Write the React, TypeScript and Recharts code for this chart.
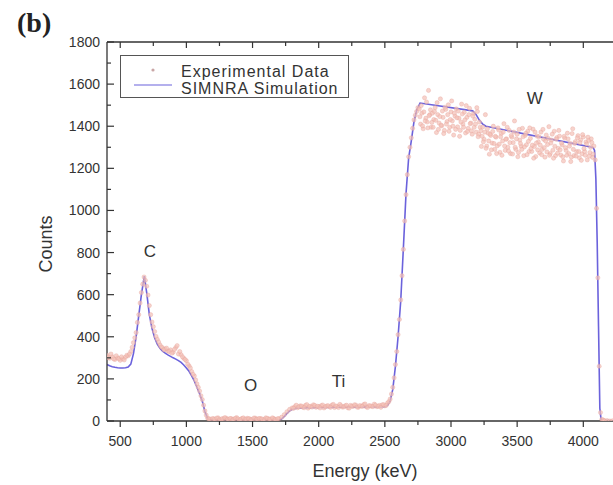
import { ComposedChart, Line, Scatter, XAxis, YAxis, Legend, ReferenceDot } from "recharts";

// ---- axis ticks ----
const xTicks = [500, 750, 1000, 1250, 1500, 1750, 2000, 2250, 2500, 2750, 3000, 3250, 3500, 3750, 4000, 4250];
const yTicks = [0, 100, 200, 300, 400, 500, 600, 700, 800, 900, 1000, 1100, 1200, 1300, 1400, 1500, 1600, 1700, 1800];

// C region
const expE1 = [400, 420, 440, 460, 480, 500, 520, 540, 560, 580, 600, 620, 640, 660, 680, 700, 720, 740, 760, 780,
  800, 820, 840, 860, 880, 900, 920, 940, 960, 980, 1000, 1020, 1040, 1060, 1080, 1100, 1120, 1140, 1160, 1180];
const expC1 = [312, 298, 305, 292, 300, 288, 296, 303, 310, 330, 372, 420, 505, 610, 684, 640, 548, 470, 425, 388,
  362, 348, 341, 332, 338, 326, 349, 318, 315, 298, 286, 262, 235, 214, 176, 142, 102, 48, 14, 9];
const expE1b = [410, 430, 450, 470, 490, 510, 530, 550, 570, 590, 610, 630, 650, 670, 690, 710, 730, 750, 770, 790,
  810, 830, 850, 870, 890, 910, 930, 950, 970, 990, 1010, 1030, 1050, 1070, 1090, 1110, 1130, 1150, 1170];
const expC1b = [302, 318, 295, 310, 296, 305, 290, 312, 318, 350, 395, 468, 560, 650, 668, 598, 505, 448, 402, 375,
  352, 338, 346, 330, 322, 340, 358, 330, 305, 292, 270, 252, 222, 195, 160, 120, 75, 28, 10];
// O region
const expE2 = [1200, 1220, 1240, 1260, 1280, 1300, 1320, 1340, 1360, 1380, 1400, 1420, 1440, 1460, 1480, 1500, 1520,
  1540, 1560, 1580, 1600, 1620, 1640, 1660, 1680, 1700];
const expC2 = [12, 8, 15, 6, 10, 14, 7, 11, 9, 16, 5, 12, 8, 13, 10, 6, 14, 9, 11, 7, 15, 10, 8, 12, 6, 11];
const expE2b = [1210, 1230, 1250, 1270, 1290, 1310, 1330, 1350, 1370, 1390, 1410, 1430, 1450, 1470, 1490, 1510, 1530,
  1550, 1570, 1590, 1610, 1630, 1650, 1670, 1690];
const expC2b = [9, 14, 6, 11, 16, 8, 12, 5, 13, 10, 7, 15, 9, 11, 6, 14, 8, 12, 10, 5, 13, 9, 15, 7, 11];
// Ti region
const expE3 = [1720, 1740, 1760, 1780, 1800, 1820, 1840, 1860, 1880, 1900, 1920, 1940, 1960, 1980, 2000, 2020, 2040,
  2060, 2080, 2100, 2120, 2140, 2160, 2180, 2200, 2220, 2240, 2260, 2280, 2300, 2320, 2340, 2360, 2380, 2400, 2420,
  2440, 2460, 2480, 2500, 2520];
const expC3 = [18, 30, 44, 55, 62, 68, 63, 72, 66, 74, 61, 70, 77, 65, 69, 73, 62, 71, 68, 75, 64, 70, 79, 66, 72, 63,
  74, 69, 76, 65, 71, 78, 67, 73, 70, 80, 68, 74, 77, 72, 85];
const expE3b = [1810, 1830, 1850, 1870, 1890, 1910, 1930, 1950, 1970, 1990, 2010, 2030, 2050, 2070, 2090, 2110, 2130,
  2150, 2170, 2190, 2210, 2230, 2250, 2270, 2290, 2310, 2330, 2350, 2370, 2390, 2410, 2430, 2450, 2470, 2490, 2510];
const expC3b = [60, 75, 67, 71, 63, 78, 69, 66, 74, 70, 62, 76, 68, 73, 65, 79, 71, 64, 72, 67, 75, 61, 70, 77, 66, 73,
  69, 81, 64, 72, 68, 76, 70, 65, 78, 74];
// W leading edge
const expE4 = [2530, 2540, 2550, 2560, 2570, 2580, 2590, 2600, 2610, 2620, 2630, 2640, 2650, 2660, 2670, 2680, 2690,
  2700, 2710, 2720, 2730, 2740, 2750];
const expC4 = [92, 104, 128, 160, 205, 268, 330, 410, 482, 575, 690, 815, 950, 1075, 1170, 1255, 1300, 1345, 1390,
  1430, 1452, 1470, 1488];
// W plateau
const expE5 = [
  2760, 2770, 2780, 2790, 2800, 2810, 2820, 2830, 2840, 2850, 2860, 2870, 2880, 2890, 2900, 2910, 2920, 2930, 2940, 2950,
  2960, 2970, 2980, 2990, 3000, 3010, 3020, 3030, 3040, 3050, 3060, 3070, 3080, 3090, 3100, 3110, 3120, 3130, 3140, 3150,
  3160, 3170, 3180, 3190, 3200, 3210, 3220, 3230, 3240, 3250, 3260, 3270, 3280, 3290, 3300, 3310, 3320, 3330, 3340, 3350,
  3360, 3370, 3380, 3390, 3400, 3410, 3420, 3430, 3440, 3450, 3460, 3470, 3480, 3490, 3500, 3510, 3520, 3530, 3540, 3550,
  3560, 3570, 3580, 3590, 3600, 3610, 3620, 3630, 3640, 3650, 3660, 3670, 3680, 3690, 3700, 3710, 3720, 3730, 3740, 3750,
  3760, 3770, 3780, 3790, 3800, 3810, 3820, 3830, 3840, 3850, 3860, 3870, 3880, 3890, 3900, 3910, 3920, 3930, 3940, 3950,
  3960, 3970, 3980, 3990, 4000, 4010, 4020, 4030, 4040, 4050, 4060, 4070, 4080];
const expC5 = [
  1482, 1410, 1462, 1388, 1535, 1438, 1420, 1570, 1455, 1395, 1462, 1432, 1488, 1370, 1455, 1415, 1530, 1402, 1442, 1380,
  1480, 1422, 1502, 1395, 1468, 1425, 1358, 1448, 1482, 1397, 1438, 1380, 1505, 1410, 1466, 1368, 1442, 1390, 1485, 1415,
  1362, 1460, 1433, 1372, 1470, 1362, 1395, 1304, 1396, 1338, 1455, 1306, 1367, 1267, 1356, 1320, 1400, 1290, 1348, 1307,
  1382, 1276, 1366, 1330, 1412, 1285, 1340, 1300, 1380, 1270, 1348, 1322, 1425, 1290, 1362, 1275, 1334, 1305, 1390, 1260,
  1356, 1312, 1376, 1280, 1342, 1280, 1386, 1304, 1256, 1353, 1326, 1273, 1372, 1290, 1338, 1253, 1358, 1313, 1398, 1270,
  1334, 1286, 1376, 1260, 1346, 1295, 1353, 1263, 1311, 1235, 1343, 1285, 1367, 1270, 1319, 1253, 1388, 1261, 1327, 1279,
  1355, 1250, 1335, 1269, 1349, 1280, 1325, 1240, 1333, 1275, 1340, 1252, 1306];
const expE5b = [
  2765, 2775, 2785, 2795, 2805, 2815, 2825, 2835, 2845, 2855, 2865, 2875, 2885, 2895, 2905, 2915, 2925, 2935, 2945, 2955,
  2965, 2975, 2985, 2995, 3005, 3015, 3025, 3035, 3045, 3055, 3065, 3075, 3085, 3095, 3105, 3115, 3125, 3135, 3145, 3155,
  3165, 3175, 3185, 3195, 3205, 3215, 3225, 3235, 3245, 3255, 3265, 3275, 3285, 3295, 3305, 3315, 3325, 3335, 3345, 3355,
  3365, 3375, 3385, 3395, 3405, 3415, 3425, 3435, 3445, 3455, 3465, 3475, 3485, 3495, 3505, 3515, 3525, 3535, 3545, 3555,
  3565, 3575, 3585, 3595, 3605, 3615, 3625, 3635, 3645, 3655, 3665, 3675, 3685, 3695, 3705, 3715, 3725, 3735, 3745, 3755,
  3765, 3775, 3785, 3795, 3805, 3815, 3825, 3835, 3845, 3855, 3865, 3875, 3885, 3895, 3905, 3915, 3925, 3935, 3945, 3955,
  3965, 3975, 3985, 3995, 4005, 4015, 4025, 4035, 4045, 4055, 4065, 4075];
const expC5b = [
  1445, 1498, 1402, 1468, 1425, 1515, 1392, 1450, 1478, 1418, 1395, 1470, 1428, 1512, 1385, 1446, 1405, 1472, 1365, 1490,
  1410, 1455, 1376, 1432, 1520, 1400, 1462, 1385, 1440, 1472, 1352, 1420, 1458, 1395, 1430, 1498, 1375, 1455, 1412, 1378,
  1448, 1395, 1410, 1488, 1350, 1420, 1378, 1352, 1326, 1372, 1295, 1388, 1330, 1362, 1288, 1375, 1318, 1352, 1270, 1392,
  1315, 1350, 1262, 1372, 1306, 1338, 1395, 1282, 1322, 1356, 1268, 1372, 1300, 1340, 1255, 1385, 1318, 1290, 1350, 1302,
  1366, 1265, 1328, 1392, 1294, 1310, 1248, 1372, 1320, 1288, 1350, 1310, 1265, 1385, 1298, 1330, 1278, 1342, 1262, 1320,
  1362, 1248, 1305, 1338, 1272, 1380, 1288, 1320, 1255, 1352, 1298, 1262, 1340, 1305, 1232, 1365, 1290, 1318, 1258, 1345,
  1280, 1322, 1238, 1360, 1294, 1262, 1315, 1348, 1258, 1300, 1322, 1268];
// W trailing edge + background
const expE6 = [4090, 4100, 4110, 4120, 4130, 4140, 4150, 4160, 4180, 4200, 4220, 4240, 4260, 4280, 4300];
const expC6 = [1240, 1010, 680, 260, 40, 8, 4, 2, 2, 0, 1, 0, 3, 0, 1];

// ---- SIMNRA simulation ----
const simEnergy = [400, 420, 440, 460, 480, 500, 520, 540, 560, 580, 600, 620, 640, 660, 682, 700, 720, 740, 760, 780,
  800, 820, 840, 860, 880, 900, 920, 940, 960, 980, 1000, 1020, 1040, 1060, 1080, 1100, 1120, 1140, 1160, 1180, 1200,
  1700, 1720, 1740, 1760, 1780, 1800, 1840, 2000, 2500, 2520, 2540, 2560, 2580, 2600, 2620, 2640, 2660, 2680, 2700,
  2720, 2740, 2766, 3164, 3190, 3215, 3240, 3264, 4074, 4085, 4095, 4105, 4115, 4125, 4135, 4300];
const simCounts = [268, 262, 258, 255, 253, 252, 252, 253, 256, 270, 320, 400, 500, 600, 688, 610, 505, 440, 395, 365,
  345, 332, 322, 314, 307, 300, 294, 287, 278, 266, 252, 236, 214, 190, 160, 130, 95, 45, 12, 4, 3,
  3, 10, 22, 36, 48, 56, 62, 64, 68, 74, 95, 150, 260, 400, 570, 820, 1080, 1250, 1330,
  1420, 1475, 1510, 1473, 1455, 1428, 1410, 1400, 1299, 1285, 1150, 850, 450, 60, 3, 0];

// ---- element labels ----
const peakLabels = ["C", "O", "Ti", "W"];
const peakEnergy = [725, 1485, 2150, 3633];
const peakCounts = [806, 172, 188, 1533];

const expEnergy = [...expE1, ...expE1b, ...expE2, ...expE2b, ...expE3, ...expE3b, ...expE4, ...expE5, ...expE5b, ...expE6];
const expCounts = [...expC1, ...expC1b, ...expC2, ...expC2b, ...expC3, ...expC3b, ...expC4, ...expC5, ...expC5b, ...expC6];
const expData = expEnergy.map((e, i) => ({ energy: e, counts: expCounts[i] }));
const simData = simEnergy.map((e, i) => ({ energy: e, counts: simCounts[i] }));

const FONT = "'Liberation Sans', Arial, Helvetica, sans-serif";
const INK = "#333";
const DOT_FILL = "#f4c0b7";
const DOT_EDGE = "#e6a098";
const SIM = "#6b62dc";

function BottomTick(props: any) {
  const { x, y, payload } = props;
  const major = payload.value % 500 === 0;
  return (
    <g>
      <line x1={x} x2={x} y1={y} y2={y + (major ? 6 : 4)} stroke={INK} strokeWidth={1.2} />
      {major && (
        <text x={x} y={y + 25} textAnchor="middle" fontSize={14} fill={INK} fontFamily={FONT}>
          {payload.value}
        </text>
      )}
    </g>
  );
}

function TopTick(props: any) {
  const { x, y, payload } = props;
  const major = payload.value % 500 === 0;
  return <line x1={x} x2={x} y1={y} y2={y + (major ? 6 : 4)} stroke={INK} strokeWidth={1.2} />;
}

function LeftTick(props: any) {
  const { x, y, payload } = props;
  const major = payload.value % 200 === 0;
  return (
    <g>
      <line x1={x + 7} x2={x + 7 + (major ? 7 : 4)} y1={y} y2={y} stroke={INK} strokeWidth={1.2} />
      {major && (
        <text x={x} y={y + 5} textAnchor="end" fontSize={14} fill={INK} fontFamily={FONT}>
          {payload.value}
        </text>
      )}
    </g>
  );
}

function LegendBox() {
  return (
    <svg width={229} height={43} style={{ display: "block" }}>
      <rect x={0.5} y={0.5} width={228} height={42} fill="#fff" stroke="#555" strokeWidth={1} />
      <circle cx={33} cy={15} r={1.6} fill="#c9a6a6" />
      <line x1={14} x2={52} y1={30} y2={30} stroke={SIM} strokeWidth={1.2} />
      <text x={61} y={22} fontSize={16} letterSpacing={1} fill={INK} fontFamily={FONT}>Experimental Data</text>
      <text x={61} y={38.5} fontSize={16} letterSpacing={1} fill={INK} fontFamily={FONT}>SIMNRA Simulation</text>
    </svg>
  );
}

export default function App() {
  return (
    <div style={{ position: "absolute", left: 0, top: 0, width: 613, height: 485, overflow: "hidden", background: "#fff" }}>
      <div style={{ position: "absolute", left: 17, top: 9, fontFamily: "'Liberation Serif', 'Times New Roman', serif", fontWeight: "bold", fontSize: 28, lineHeight: 1, color: "#222" }}>
        (b)
      </div>
      <ComposedChart width={640} height={485} margin={{ top: 41, right: 17, bottom: 24, left: 57 }}>
        <XAxis
          dataKey="energy"
          type="number"
          domain={[400, 4300]}
          allowDataOverflow
          ticks={xTicks}
          interval={0}
          tick={BottomTick}
          tickLine={false}
          tickSize={0}
          tickMargin={0}
          height={40}
          axisLine={{ stroke: INK, strokeWidth: 1.3 }}
          label={{
            content: (p: any) => (
              <text x={p.viewBox.x + p.viewBox.width / 2} y={p.viewBox.y + 56} textAnchor="middle" fontSize={18} fill={INK} fontFamily={FONT}>
                Energy (keV)
              </text>
            ),
          }}
        />
        <XAxis
          xAxisId="top"
          orientation="top"
          dataKey="energy"
          type="number"
          domain={[400, 4300]}
          allowDataOverflow
          ticks={xTicks}
          interval={0}
          tick={TopTick}
          tickLine={false}
          tickSize={0}
          tickMargin={0}
          height={1}
          axisLine={{ stroke: INK, strokeWidth: 1.3 }}
        />
        <YAxis
          type="number"
          domain={[0, 1800]}
          allowDataOverflow
          ticks={yTicks}
          interval={0}
          tick={LeftTick}
          tickLine={false}
          tickSize={0}
          tickMargin={7}
          width={50}
          axisLine={{ stroke: INK, strokeWidth: 1.3 }}
          label={{
            content: (p: any) => {
              const cx = p.viewBox.x - 11.5;
              const cy = p.viewBox.y + p.viewBox.height / 2 + 12.5;
              return (
                <text x={cx} y={cy} transform={`rotate(-90 ${cx} ${cy})`} textAnchor="middle" dominantBaseline="central" fontSize={18} fill={INK} fontFamily={FONT}>
                  Counts
                </text>
              );
            },
          }}
        />
        <Legend
          layout="vertical"
          align="center"
          verticalAlign="middle"
          wrapperStyle={{ left: 120, top: 55, width: 229 }}
          content={() => <LegendBox />}
        />
        <Scatter
          name="Experimental Data"
          data={expData}
          dataKey="counts"
          isAnimationActive={false}
          shape={(p: any) => (
            <circle cx={p.cx} cy={p.cy} r={2.1} fill={DOT_FILL} fillOpacity={0.7} stroke={DOT_EDGE} strokeWidth={0.5} strokeOpacity={0.7} />
          )}
        />
        <Line
          name="SIMNRA Simulation"
          data={simData}
          dataKey="counts"
          type="linear"
          stroke={SIM}
          strokeWidth={1.6}
          dot={false}
          isAnimationActive={false}
        />
        {peakLabels.map((t, i) => (
          <ReferenceDot
            key={t}
            x={peakEnergy[i]}
            y={peakCounts[i]}
            r={0}
            fill="none"
            stroke="none"
            label={{ value: t, position: "center", fontSize: 17, fill: INK, fontFamily: FONT }}
          />
        ))}
      </ComposedChart>
    </div>
  );
}
